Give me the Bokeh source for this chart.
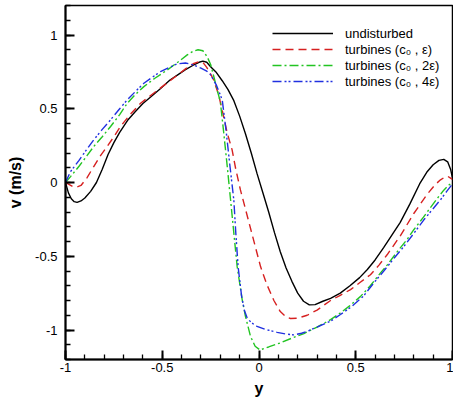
from bokeh.plotting import figure
from bokeh.models import Legend, LegendItem, FixedTicker
from bokeh.embed import file_html
from bokeh.resources import INLINE

# --- data ---
x_und = [-1.0, -0.985, -0.97, -0.955, -0.94, -0.92, -0.9, -0.87, -0.84, -0.81, -0.78, -0.75,
         -0.72, -0.68, -0.64, -0.6, -0.56, -0.51, -0.46, -0.42, -0.38, -0.34, -0.31, -0.29,
         -0.27, -0.25, -0.22, -0.19, -0.16, -0.13, -0.1, -0.07, -0.04, -0.01, 0.02, 0.05,
         0.08, 0.11, 0.14, 0.17, 0.2, 0.23, 0.26, 0.29, 0.33, 0.37, 0.42, 0.47, 0.52, 0.56,
         0.6, 0.645, 0.69, 0.73, 0.78, 0.83, 0.87, 0.9, 0.93, 0.955, 0.975, 0.99, 1.0]
v_und = [0.0, -0.07, -0.11, -0.13, -0.135, -0.125, -0.105, -0.06, 0.0, 0.09, 0.19, 0.27,
         0.34, 0.42, 0.48, 0.535, 0.58, 0.635, 0.695, 0.73, 0.765, 0.795, 0.815, 0.823,
         0.815, 0.785, 0.745, 0.69, 0.63, 0.555, 0.45, 0.33, 0.2, 0.06, -0.07, -0.2,
         -0.34, -0.47, -0.58, -0.67, -0.75, -0.805, -0.83, -0.828, -0.805, -0.785, -0.75, -0.7, -0.645, -0.59,
         -0.525, -0.44, -0.35, -0.27, -0.145, -0.01, 0.075, 0.12, 0.15, 0.157, 0.14, 0.09, 0.03]

x_t1 = [-1.0, -0.98, -0.96, -0.94, -0.92, -0.89, -0.854, -0.82, -0.785, -0.75, -0.716, -0.66,
        -0.612, -0.56, -0.51, -0.46, -0.42, -0.38, -0.34, -0.31, -0.29, -0.27, -0.25, -0.234,
        -0.21, -0.19, -0.165, -0.139, -0.12, -0.096, -0.07, -0.044, -0.02, 0.008, 0.04, 0.077,
        0.11, 0.14, 0.163, 0.2, 0.249, 0.3, 0.37, 0.42, 0.473, 0.52, 0.576, 0.62, 0.662, 0.731,
        0.8, 0.869, 0.91, 0.938, 0.96, 0.975, 0.99, 1.0]
v_t1 = [0.0, -0.015, -0.03, -0.03, -0.02, 0.03, 0.108, 0.18, 0.244, 0.31, 0.38, 0.47,
        0.537, 0.59, 0.64, 0.69, 0.73, 0.77, 0.805, 0.82, 0.815, 0.78, 0.735, 0.695,
        0.6, 0.49, 0.34, 0.221, 0.09, -0.05, -0.18, -0.31, -0.43, -0.57, -0.69, -0.8,
        -0.875, -0.912, -0.922, -0.92, -0.9, -0.865, -0.8, -0.765, -0.726, -0.68, -0.625, -0.56, -0.49, -0.36,
        -0.21, -0.08, -0.015, 0.018, 0.036, 0.042, 0.03, 0.02]

x_t2 = [-1.0, -0.974, -0.93, -0.89, -0.854, -0.81, -0.767, -0.72, -0.681, -0.64, -0.595, -0.54,
        -0.474, -0.42, -0.371, -0.34, -0.315, -0.29, -0.268, -0.25, -0.23, -0.215, -0.2, -0.182,
        -0.164, -0.147, -0.13, -0.113, -0.087, -0.07, -0.044, -0.02, 0.005, 0.05, 0.111, 0.17,
        0.232, 0.3, 0.37, 0.421, 0.47, 0.525, 0.575, 0.628, 0.662, 0.714, 0.766, 0.8, 0.85,
        0.886, 0.92, 0.955, 0.98, 1.0]
v_t2 = [0.0, 0.04, 0.11, 0.18, 0.244, 0.31, 0.38, 0.46, 0.537, 0.595, 0.65, 0.705,
        0.763, 0.815, 0.865, 0.89, 0.9, 0.893, 0.853, 0.8, 0.7, 0.62, 0.55, 0.334,
        0.108, -0.117, -0.343, -0.569, -0.794, -0.907, -1.043, -1.11, -1.135, -1.115, -1.087, -1.055,
        -1.024, -0.98, -0.93, -0.884, -0.835, -0.772, -0.7, -0.613, -0.56, -0.47, -0.385, -0.32, -0.235,
        -0.17, -0.11, -0.052, -0.018, 0.0]

x_t4 = [-1.0, -0.974, -0.93, -0.89, -0.854, -0.81, -0.767, -0.72, -0.681, -0.64, -0.595, -0.55,
        -0.509, -0.465, -0.423, -0.38, -0.337, -0.3, -0.27, -0.25, -0.22, -0.19, -0.17, -0.15,
        -0.13, -0.12, -0.108, -0.09, -0.075, -0.061, -0.04, -0.01, 0.03, 0.094, 0.14, 0.18,
        0.22, 0.249, 0.3, 0.37, 0.421, 0.48, 0.54, 0.6, 0.645, 0.7, 0.749, 0.8, 0.852, 0.938, 0.97, 1.0]
v_t4 = [0.0, 0.074, 0.15, 0.225, 0.289, 0.36, 0.425, 0.5, 0.56, 0.615, 0.673, 0.715,
        0.752, 0.78, 0.804, 0.81, 0.797, 0.775, 0.755, 0.73, 0.66, 0.56, 0.35, 0.11,
        -0.12, -0.34, -0.57, -0.77, -0.87, -0.918, -0.95, -0.975, -0.995, -1.016, -1.028, -1.033,
        -1.022, -1.009, -0.98, -0.94, -0.895, -0.84, -0.77, -0.67, -0.6, -0.51, -0.433, -0.345, -0.253, -0.117, -0.06, -0.01]

labels = ["undisturbed", "turbines (c\u2080 , \u03b5)", "turbines (c\u2080 , 2\u03b5)", "turbines (c\u2080 , 4\u03b5)"]
x_ticks = [-1, -0.5, 0, 0.5, 1]
y_ticks = [-1, -0.5, 0, 0.5, 1]
tick_text = {-1: "-1", -0.5: "-0.5", 0: "0", 0.5: "0.5", 1: "1"}
x_range = (-1, 1)
y_range = (-1.2, 1.2)

FONT = "Liberation Sans"

p = figure(width=453, height=400, x_range=x_range, y_range=y_range,
           output_backend="svg", toolbar_location=None,
           min_border_left=65, min_border_right=1, min_border_top=5, min_border_bottom=41)
p.xgrid.visible = False
p.ygrid.visible = False
p.outline_line_color = "black"
p.outline_line_width = 1.5

r0 = p.line(x_und, v_und, line_color="black", line_width=1.4)
r1 = p.line(x_t1, v_t1, line_color="#d62020", line_width=1.4, line_dash="8 5")
r2 = p.line(x_t2, v_t2, line_color="#22c422", line_width=1.4, line_dash="9 3 2 3")
r3 = p.line(x_t4, v_t4, line_color="#2030e0", line_width=1.4, line_dash="9 3 2 2 2 3")

x_minor = [round(-1 + 0.1 * i, 2) for i in range(21)]
y_minor = [round(-1.2 + 0.1 * i, 2) for i in range(25)]

for ax in (p.xaxis[0], p.yaxis[0]):
    ax.axis_line_width = 2
    ax.axis_line_color = "black"
    ax.major_tick_in = 9
    ax.major_tick_out = 0
    ax.minor_tick_in = 5
    ax.minor_tick_out = 0
    ax.major_tick_line_color = "black"
    ax.minor_tick_line_color = "black"
    ax.major_tick_line_width = 2
    ax.minor_tick_line_width = 1.3
    ax.major_label_text_font = FONT
    ax.major_label_text_font_size = "13px"
    ax.major_label_text_color = "black"
    ax.axis_label_text_font = FONT
    ax.axis_label_text_font_size = "16px"
    ax.axis_label_text_font_style = "bold"
    ax.axis_label_text_color = "black"

p.xaxis.ticker = FixedTicker(ticks=x_ticks, minor_ticks=x_minor)
p.yaxis.ticker = FixedTicker(ticks=y_ticks, minor_ticks=y_minor)
p.xaxis.major_label_overrides = tick_text
p.yaxis.major_label_overrides = tick_text
p.xaxis.axis_label = "y"
p.yaxis.axis_label = "v (m/s)"
p.xaxis.major_label_standoff = 3
p.yaxis.major_label_standoff = 8
p.xaxis.axis_label_standoff = 5
p.yaxis.axis_label_standoff = 8

legend = Legend(items=[LegendItem(label=labels[0], renderers=[r0]),
                       LegendItem(label=labels[1], renderers=[r1]),
                       LegendItem(label=labels[2], renderers=[r2]),
                       LegendItem(label=labels[3], renderers=[r3])],
                location=(207, 270), padding=0, margin=0, spacing=0,
                glyph_width=61, glyph_height=16, label_height=16, label_standoff=12,
                label_text_font=FONT, label_text_font_size="13px", label_text_color="black",
                border_line_alpha=0, background_fill_alpha=0)
p.add_layout(legend)

open("out.html", "w").write(file_html(p, INLINE))
